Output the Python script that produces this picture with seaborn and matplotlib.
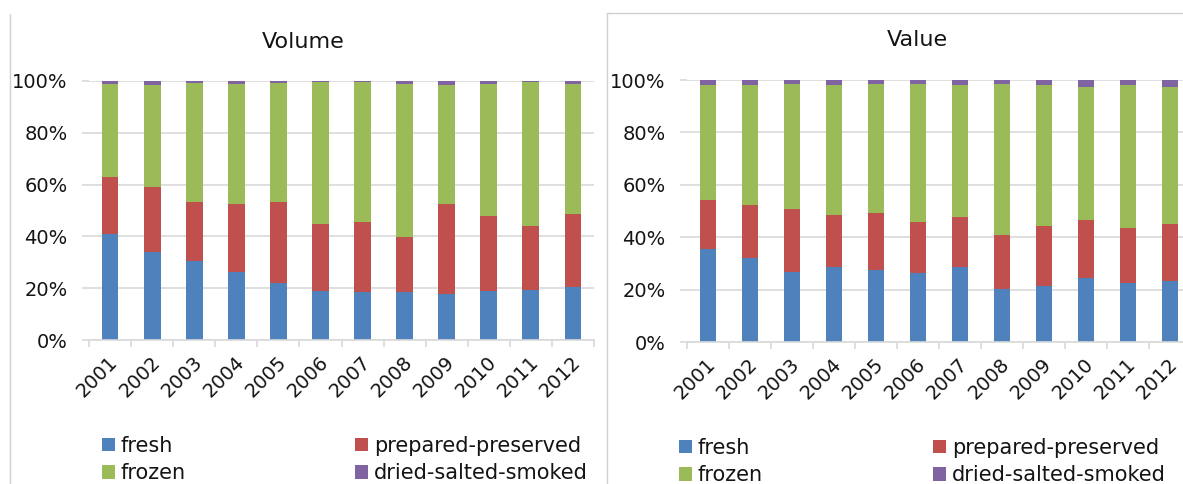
import numpy as np
import pandas as pd
import matplotlib
matplotlib.use("Agg")
import matplotlib.pyplot as plt
import matplotlib.transforms as mtransforms
from matplotlib.patches import Patch
from matplotlib.lines import Line2D
import seaborn as sns

# ---- data (shares in %) -------------------------------------------------
years = ["2001", "2002", "2003", "2004", "2005", "2006",
         "2007", "2008", "2009", "2010", "2011", "2012"]
categories = ["fresh", "prepared-preserved", "frozen", "dried-salted-smoked"]

volume_fresh    = [40.9, 33.8, 30.4, 26.4, 21.9, 18.9, 18.4, 18.4, 17.9, 18.9, 19.4, 20.3]
volume_prepared = [22.2, 25.3, 22.8, 26.3, 31.3, 25.9, 27.3, 21.3, 34.8, 28.8, 24.8, 28.3]
volume_frozen   = [35.9, 39.3, 46.2, 46.3, 46.2, 54.7, 53.8, 59.3, 45.7, 51.3, 55.3, 50.4]
volume_dried    = [1.0, 1.6, 0.6, 1.0, 0.6, 0.5, 0.5, 1.0, 1.6, 1.0, 0.5, 1.0]

value_fresh    = [35.5, 32.1, 26.7, 28.7, 27.6, 26.2, 28.7, 20.3, 21.2, 24.6, 22.7, 23.2]
value_prepared = [18.8, 20.1, 24.0, 19.6, 21.7, 19.6, 19.2, 20.7, 23.2, 21.8, 20.7, 21.8]
value_frozen   = [43.7, 45.8, 47.8, 49.7, 49.2, 52.7, 50.1, 57.5, 53.6, 51.0, 54.6, 52.4]
value_dried    = [2.0, 2.0, 1.5, 2.0, 1.5, 1.5, 2.0, 1.5, 2.0, 2.6, 2.0, 2.6]

ytick_values = [0, 20, 40, 60, 80, 100]
ytick_labels = ["0%", "20%", "40%", "60%", "80%", "100%"]

colors = {"fresh": "#4F81BD", "prepared-preserved": "#C0504D",
          "frozen": "#9BBB59", "dried-salted-smoked": "#8064A2"}

GRID = "#D9D9D9"
TEXT = "#141414"

sns.set_theme(style="white")
plt.rcParams["font.family"] = ["DejaVu Sans"]

W, H = 1183, 484
fig = plt.figure(figsize=(W / 100, H / 100), dpi=100)


def px_axes(x0, x1, y_top, y_bot):
    return fig.add_axes([x0 / W, 1 - y_bot / H, (x1 - x0) / W, (y_bot - y_top) / H])


def stacked_panel(ax, series, title, title_xy):
    df = pd.DataFrame(series, index=years)
    shares = df.div(df.sum(axis=1), axis=0) * 100
    cum = shares.cumsum(axis=1)
    # draw cumulative heights from the top layer down so each segment shows
    for cat in reversed(categories):
        sns.barplot(x=years, y=cum[cat].values, color=colors[cat], saturation=1,
                    width=0.4, linewidth=0, ax=ax, zorder=3)
    ax.set_xlim(-0.5, len(years) - 0.5)
    ax.set_ylim(0, 100)
    ax.set_yticks(ytick_values)
    ax.set_yticklabels(ytick_labels)
    ax.yaxis.grid(True, color=GRID, linewidth=1.2, zorder=0)
    ax.set_axisbelow(True)
    for s in ["top", "right", "left"]:
        ax.spines[s].set_visible(False)
    ax.spines["bottom"].set_color(GRID)
    ax.spines["bottom"].set_linewidth(1.2)
    ax.spines["bottom"].set_zorder(4)
    ax.tick_params(axis="y", length=5, width=1.2, color=GRID, pad=10.5,
                   labelsize=14, labelcolor=TEXT, left=True)
    ax.set_xticks(range(len(years)))
    ax.set_xticks(np.arange(-0.5, len(years)), minor=True)
    ax.tick_params(axis="x", which="major", length=0, pad=14,
                   labelsize=14, labelcolor=TEXT)
    ax.tick_params(axis="x", which="minor", length=5, width=1.2, color=GRID,
                   bottom=True)
    shift = mtransforms.ScaledTranslation(5 / 100, 0, fig.dpi_scale_trans)
    for lab in ax.get_xticklabels():
        lab.set_rotation(45)
        lab.set_ha("right")
        lab.set_va("center")
        lab.set_rotation_mode("anchor")
        lab.set_transform(lab.get_transform() + shift)
    ax.set_xlabel("")
    ax.set_ylabel("")
    fig.text(title_xy[0] / W, 1 - title_xy[1] / H, title, ha="center", va="center",
             fontsize=16, color=TEXT)


ax_vol = px_axes(89, 594, 81, 340)
stacked_panel(ax_vol, {"fresh": volume_fresh, "prepared-preserved": volume_prepared,
                       "frozen": volume_frozen, "dried-salted-smoked": volume_dried},
              "Volume", (303, 42))

ax_val = px_axes(687, 1191, 80, 342)
stacked_panel(ax_val, {"fresh": value_fresh, "prepared-preserved": value_prepared,
                       "frozen": value_frozen, "dried-salted-smoked": value_dried},
              "Value", (917, 40))


# legends: two columns, each built separately so the columns sit where wanted
def legend_column(cats, x, y_top):
    handles = [Patch(facecolor=colors[c], edgecolor="none") for c in cats]
    leg = fig.legend(handles=handles, labels=cats, loc="upper left",
                     bbox_to_anchor=(x / W, 1 - y_top / H), frameon=False,
                     fontsize=15, handlelength=0.6, handleheight=0.6,
                     handletextpad=0.3, labelspacing=0.35, borderpad=0,
                     borderaxespad=0, labelcolor=TEXT)
    return leg


legend_column(["fresh", "frozen"], 102, 436)
legend_column(["prepared-preserved", "dried-salted-smoked"], 355, 436)
legend_column(["fresh", "frozen"], 679, 438)
legend_column(["prepared-preserved", "dried-salted-smoked"], 933, 438)

# chart frames
frame = "#D0D0D0"
fig.add_artist(Line2D([9.5 / W, 9.5 / W], [0, 1 - 14 / H], transform=fig.transFigure,
                      color=frame, linewidth=1))
fig.add_artist(Line2D([606.5 / W, 606.5 / W], [0, 1 - 12.5 / H], transform=fig.transFigure,
                      color=frame, linewidth=1))
fig.add_artist(Line2D([606.5 / W, 1], [1 - 12.5 / H, 1 - 12.5 / H], transform=fig.transFigure,
                      color=frame, linewidth=1))

fig.savefig("out.png", dpi=100, facecolor="white")
